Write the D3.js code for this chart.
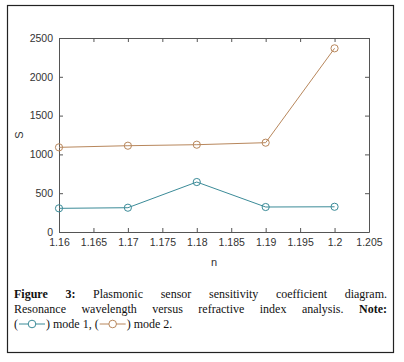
<!DOCTYPE html>
<html>
<head>
<meta charset="utf-8">
<script src="https://cdn.jsdelivr.net/npm/d3@7"></script>
<style>
  body { margin: 0; background: #fff; }
  svg { display: block; }
</style>
</head>
<body>
<div id="chart"></div>
<script>
// data
var nValues = [1.16, 1.17, 1.18, 1.19, 1.2];
var mode1 = [305, 313, 644, 322, 325];
var mode2 = [1091, 1112, 1125, 1151, 2367];
var xTicks = [1.16, 1.165, 1.17, 1.175, 1.18, 1.185, 1.19, 1.195, 1.2, 1.205];
var yTicks = [0, 500, 1000, 1500, 2000, 2500];
var captionLines = [
  [["Figure", true], ["3:", true], ["Plasmonic"], ["sensor"], ["sensitivity"], ["coefficient"], ["diagram."]],
  [["Resonance"], ["wavelength"], ["versus"], ["refractive"], ["index"], ["analysis."], ["Note:", true]]
];

var W = 404, H = 362;
var margin = { top: 38, right: 35, bottom: 130, left: 59 };
var width = W - margin.left - margin.right;
var height = H - margin.top - margin.bottom;
var c1 = "#3b8b98", c2 = "#b8875c";

var svg = d3.select("#chart").append("svg")
  .attr("width", W).attr("height", H);

// outer frame
svg.append("rect")
  .attr("x", 7.5).attr("y", 5.5).attr("width", 386).attr("height", 347)
  .attr("fill", "none").attr("stroke", "#222").attr("stroke-width", 1.2);

var g = svg.append("g")
  .attr("transform", "translate(" + margin.left + "," + margin.top + ")");

var x = d3.scaleLinear().domain([1.16, 1.205]).range([0, width]);
var y = d3.scaleLinear().domain([0, 2500]).range([height, 0]);

var fmtX = function (d) { return String(+d.toFixed(3)); };

// axes, MATLAB style with inward ticks
g.append("g").attr("transform", "translate(0," + height + ")")
  .call(d3.axisBottom(x).tickValues(xTicks).tickSizeInner(-4).tickSizeOuter(0).tickPadding(7).tickFormat(fmtX));
g.append("g")
  .call(d3.axisTop(x).tickValues(xTicks).tickSizeInner(-4).tickSizeOuter(0).tickFormat(""));
g.append("g")
  .call(d3.axisLeft(y).tickValues(yTicks).tickSizeInner(-4).tickSizeOuter(0).tickPadding(6).tickFormat(d3.format("d")));
g.append("g").attr("transform", "translate(" + width + ",0)")
  .call(d3.axisRight(y).tickValues(yTicks).tickSizeInner(-4).tickSizeOuter(0).tickFormat(""));

g.selectAll(".domain, .tick line").attr("stroke", "#555");
g.selectAll(".tick text")
  .attr("fill", "#333")
  .style("font-family", "Liberation Sans, Arial, sans-serif")
  .style("font-size", "10.5px");

function drawSeries(vals, color) {
  var pts = nValues.map(function (d, i) { return [d, vals[i]]; });
  g.append("path")
    .datum(pts)
    .attr("fill", "none").attr("stroke", color).attr("stroke-width", 1)
    .attr("d", d3.line().x(function (d) { return x(d[0]); }).y(function (d) { return y(d[1]); }));
  g.selectAll(null).data(pts).enter().append("circle")
    .attr("cx", function (d) { return x(d[0]); })
    .attr("cy", function (d) { return y(d[1]); })
    .attr("r", 3.6)
    .attr("fill", "none").attr("stroke", color).attr("stroke-width", 1);
}
drawSeries(mode1, c1);
drawSeries(mode2, c2);

// axis labels
g.append("text")
  .attr("x", x(1.1825)).attr("y", height + 34)
  .attr("text-anchor", "middle")
  .attr("fill", "#333")
  .style("font-family", "Liberation Sans, Arial, sans-serif")
  .style("font-size", "11px")
  .text("n");
g.append("text")
  .attr("transform", "translate(-36," + y(1250) + ") rotate(-90)")
  .attr("text-anchor", "middle")
  .attr("fill", "#333")
  .style("font-family", "Liberation Sans, Arial, sans-serif")
  .style("font-size", "11px")
  .text("S");

// caption, justified lines
var capFont = "Liberation Serif, Times New Roman, serif";
var capSize = "12px";
var capLeft = 14, capRight = 387;
var lineY = [298, 313, 328];

captionLines.forEach(function (words, li) {
  var nodes = words.map(function (w) {
    return svg.append("text")
      .attr("y", lineY[li])
      .attr("fill", "#111")
      .style("font-family", capFont)
      .style("font-size", capSize)
      .style("font-weight", w[1] ? "bold" : "normal")
      .text(w[0]);
  });
  var total = d3.sum(nodes, function (n) { return n.node().getComputedTextLength(); });
  var gap = (capRight - capLeft - total) / (nodes.length - 1);
  var cx = capLeft;
  nodes.forEach(function (n) {
    n.attr("x", cx);
    cx += n.node().getComputedTextLength() + gap;
  });
});

// last line with legend glyphs
var line3 = svg.append("g");
var lx = capLeft;
function capText(str) {
  var t = line3.append("text")
    .attr("x", lx).attr("y", lineY[2])
    .attr("fill", "#111")
    .style("font-family", capFont)
    .style("font-size", capSize)
    .text(str);
  lx += t.node().getComputedTextLength();
}
function glyph(color) {
  var w = 28, cy = lineY[2] - 4;
  line3.append("line")
    .attr("x1", lx + 1).attr("x2", lx + w - 1).attr("y1", cy).attr("y2", cy)
    .attr("stroke", color).attr("stroke-width", 1);
  line3.append("circle")
    .attr("cx", lx + w / 2).attr("cy", cy).attr("r", 3.8)
    .attr("fill", "#fff").attr("stroke", color).attr("stroke-width", 1);
  lx += w;
}
capText("(");
glyph(c1);
capText(") mode 1, (");
glyph(c2);
capText(") mode 2.");
</script>
</body>
</html>
